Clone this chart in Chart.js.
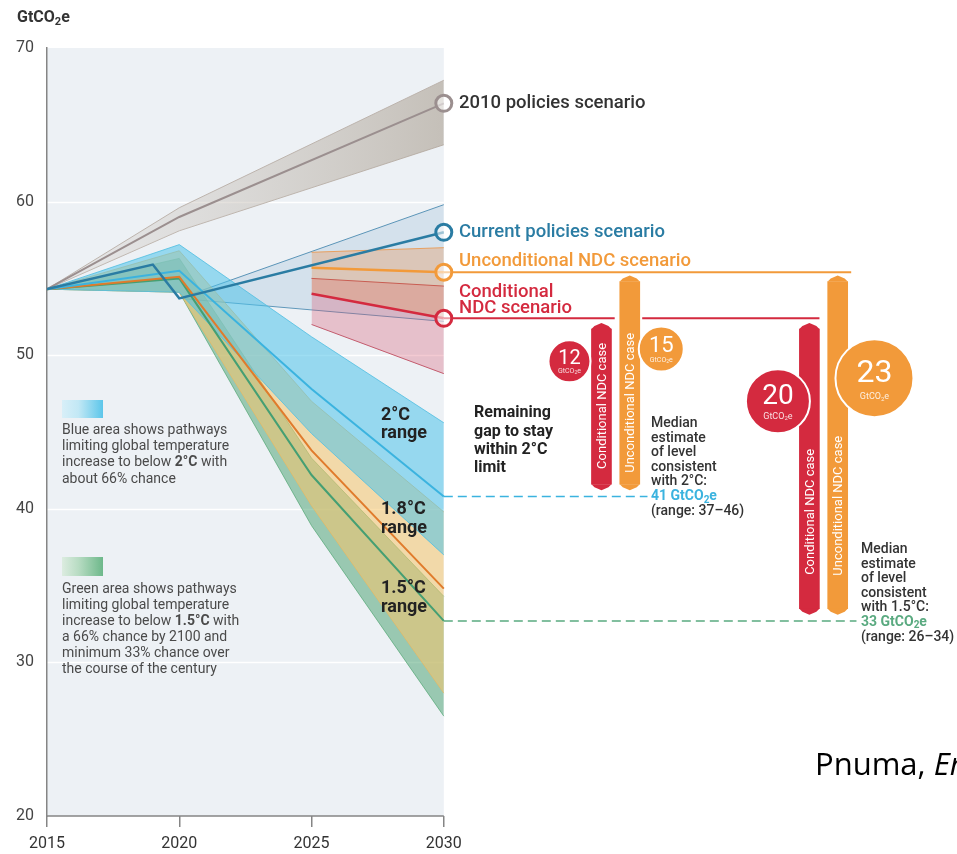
<!DOCTYPE html>
<html>
<head>
<meta charset="utf-8">
<script src="https://cdn.jsdelivr.net/npm/chart.js@4.4.1/dist/chart.umd.min.js"></script>
<style>
  html, body { margin: 0; padding: 0; background: #fff; }
  #wrap { width: 957px; height: 854px; position: relative; }
</style>
</head>
<body>
<div id="wrap"><canvas id="gap"></canvas></div>
<script>
// Datos (GtCO2e)
const xTickYears = [2015, 2020, 2025, 2030];

const policies2010Years = [2015, 2020, 2030];
const policies2010Mid   = [54.3, 59.0, 66.4];
const policies2010High  = [54.3, 59.6, 67.9];
const policies2010Low   = [54.3, 58.1, 63.7];

const currentYears     = [2015, 2019, 2020, 2030];
const currentMid       = [54.3, 55.9, 53.7, 58.0];
const currentBandYears = [2020, 2030];
const currentHigh      = [53.7, 59.8];
const currentLow       = [53.7, 52.2];

const ndcYears   = [2025, 2030];
const uncondMid  = [55.7, 55.4];
const uncondHigh = [56.7, 57.0];
const uncondLow  = [54.0, 52.4];
const condMid    = [54.0, 52.4];
const condHigh   = [55.0, 54.5];
const condLow    = [52.0, 48.8];

const pathYears = [2015, 2020, 2025, 2030];
const deg2High  = [54.3, 57.2, 51.2, 45.6];
const deg2Mid   = [54.3, 55.5, 47.8, 40.8];
const deg2Low   = [54.3, 54.1, 44.9, 37.0];
const deg18High = [54.3, 56.8, 47.0, 39.8];
const deg18Mid  = [54.3, 55.1, 43.8, 34.8];
const deg18Low  = [54.3, 54.1, 40.2, 28.0];
const deg15High = [54.3, 56.3, 43.3, 34.3];
const deg15Mid  = [54.3, 55.0, 42.2, 32.7];
const deg15Low  = [54.3, 54.1, 38.9, 26.5];

// Brechas (barras y círculos)
const gapValues    = [12, 15, 20, 23];
const condBarYears = [2035.96, 2043.82];
const condBarLow   = [41.6, 33.5];
const condBarHigh  = [51.7, 51.7];
const uncBarYears  = [2037.03, 2044.89];
const uncBarLow    = [41.6, 33.5];
const uncBarHigh   = [54.8, 54.8];

// posiciones de los círculos (año, valor) y radio en px
const bubbleX = [2034.75, 2038.22, 2042.63, 2046.28];
const bubbleY = [49.6, 50.4, 47.0, 48.5];
const bubbleR = [21, 22.5, 32, 39];

// extensiones a la derecha
const uncondLineEnd = 2045.4;
const condLineSegs  = [[2030, 2036.46], [2037.5, 2044.2]];
const deg2DashEnd   = 2037.7;
const deg15DashEnd  = 2045.6;

const RED = '#d42a3f', ORANGE = '#f29a3a', TEAL = '#2a7ca3', CYAN = '#3bb3df', GREEN = '#459f73', GREY = '#9b8f8f';

const pts = (xs, ys) => xs.map((x, i) => ({ x, y: ys[i] }));
const line = (xs, ys, color, width, order, extra = {}) => Object.assign({
  type: 'line', data: pts(xs, ys), borderColor: color, borderWidth: width,
  pointRadius: 0, fill: false, tension: 0, order
}, extra);

function grad2010(ctx) {
  const ch = ctx.chart;
  if (!ch.chartArea) return 'rgba(180,170,160,0.4)';
  const x = ch.scales.x;
  const g = ch.ctx.createLinearGradient(x.getPixelForValue(2016), 0, x.getPixelForValue(2030), 0);
  g.addColorStop(0, 'rgba(215,210,205,0.35)');
  g.addColorStop(1, 'rgba(175,165,152,0.65)');
  return g;
}

const datasets = [
  // 2010 policies
  line(policies2010Years, policies2010High, '#bdb4ad', 1, 100, { fill: '+1', backgroundColor: grad2010 }),
  line(policies2010Years, policies2010Low, '#bdb4ad', 1, 101),
  line(policies2010Years, policies2010Mid, GREY, 2, 33),
  // current policies
  line(currentBandYears, currentHigh, '#5b95b8', 1, 90, { fill: '+1', backgroundColor: 'rgba(140,180,210,0.25)' }),
  line(currentBandYears, currentLow, '#5b95b8', 1, 91),
  // 1.5 / 1.8 / 2 °C
  line(pathYears, deg15High, 'rgba(90,170,120,0.7)', 1, 80, { fill: '+1', backgroundColor: 'rgba(70,160,110,0.5)' }),
  line(pathYears, deg15Low, 'rgba(90,170,120,0.7)', 1, 81),
  line(pathYears, deg18High, 'rgba(235,180,90,0.7)', 1, 78, { fill: '+1', backgroundColor: 'rgba(245,197,106,0.55)' }),
  line(pathYears, deg18Low, 'rgba(235,180,90,0.7)', 1, 79),
  line(pathYears, deg2High, 'rgba(80,190,225,0.8)', 1, 76, { fill: '+1', backgroundColor: 'rgba(79,195,234,0.55)' }),
  line(pathYears, deg2Low, 'rgba(80,190,225,0.8)', 1, 77),
  // NDC
  line(ndcYears, condHigh, '#b8404f', 1, 72, { fill: '+1', backgroundColor: 'rgba(215,80,105,0.3)' }),
  line(ndcYears, condLow, '#c06070', 1, 73),
  line(ndcYears, uncondHigh, '#e8a060', 1, 70, { fill: '+1', backgroundColor: 'rgba(232,150,90,0.35)' }),
  line(ndcYears, uncondLow, 'rgba(0,0,0,0)', 0, 71),
  // medianas
  line(pathYears, deg15Mid, GREEN, 2, 42),
  line(pathYears, deg18Mid, '#e07b2c', 2, 41),
  line(pathYears, deg2Mid, CYAN, 2, 40),
  line(currentYears, currentMid, TEAL, 2.5, 30),
  line(ndcYears, uncondMid, ORANGE, 2.5, 31),
  line(ndcYears, condMid, RED, 2.5, 32),
  // extensiones
  line([2030, uncondLineEnd], [uncondMid[1], uncondMid[1]], ORANGE, 2, 20),
  { type: 'line', data: [
      { x: condLineSegs[0][0], y: condMid[1] }, { x: condLineSegs[0][1], y: condMid[1] },
      { x: (condLineSegs[0][1] + condLineSegs[1][0]) / 2, y: null },
      { x: condLineSegs[1][0], y: condMid[1] }, { x: condLineSegs[1][1], y: condMid[1] }],
    borderColor: RED, borderWidth: 2, pointRadius: 0, spanGaps: false, fill: false, order: 21 },
  line([2030, deg2DashEnd], [deg2Mid[3], deg2Mid[3]], CYAN, 1.5, 22, { borderDash: [9, 5] }),
  line([2030, deg15DashEnd], [deg15Mid[3], deg15Mid[3]], '#5aaa80', 1.5, 23, { borderDash: [9, 5] }),
  // barras
  { type: 'bar', label: 'cond', data: condBarYears.map((x, i) => ({ x, y: [condBarLow[i], condBarHigh[i]] })),
    backgroundColor: RED, barThickness: 20, grouped: false, borderWidth: 0, order: 11 },
  { type: 'bar', label: 'unc', data: uncBarYears.map((x, i) => ({ x, y: [uncBarLow[i], uncBarHigh[i]] })),
    backgroundColor: ORANGE, barThickness: 20, grouped: false, borderWidth: 0, order: 10 },
  // círculos
  { type: 'scatter', label: 'bubbles', data: pts(bubbleX, bubbleY), pointRadius: bubbleR,
    pointBackgroundColor: [RED, ORANGE, RED, ORANGE], pointBorderColor: '#fff', pointBorderWidth: 2, order: 5 },
  // marcadores 2030
  { type: 'scatter', data: [policies2010Mid[2], currentMid[3], uncondMid[1], condMid[1]].map(y => ({ x: 2030, y })),
    pointRadius: 8, pointBorderWidth: 3, pointBorderColor: [GREY, TEAL, ORANGE, RED],
    pointBackgroundColor: 'rgba(255,255,255,0.55)', order: 1 }
];

const barText = { cond: ['Conditional NDC case', [46.7, 39.8]], unc: ['Unconditional NDC case', [46.9, 40.2]] };

function co2(ctx, pre, x, y, size, weight, color, align = 'left') {
  const f = (s) => `${weight} ${s}px Roboto`;
  const sub = Math.round(size * 0.7);
  ctx.font = f(size); const wa = ctx.measureText(pre + 'GtCO').width; const we = ctx.measureText('e').width;
  ctx.font = f(sub); const w2 = ctx.measureText('2').width;
  let cx = align === 'center' ? x - (wa + w2 + we) / 2 : x;
  ctx.textAlign = 'left'; ctx.fillStyle = color;
  ctx.font = f(size); ctx.fillText(pre + 'GtCO', cx, y); cx += wa;
  ctx.font = f(sub); ctx.fillText('2', cx, y + size * 0.25); cx += w2;
  ctx.font = f(size); ctx.fillText('e', cx, y);
}

function runs(ctx, parts, x, y, size, color) {
  let cx = x;
  ctx.fillStyle = color; ctx.textAlign = 'left';
  parts.forEach(([t, b]) => {
    ctx.font = `${b ? 700 : 400} ${size}px Roboto`;
    ctx.fillText(t, cx, y);
    cx += ctx.measureText(t).width;
  });
}

const backdrop = {
  id: 'backdrop',
  beforeDraw(chart) {
    const { ctx, scales: { x, y } } = chart;
    const l = x.getPixelForValue(2015), r = x.getPixelForValue(2030);
    const t = y.getPixelForValue(70), b = y.getPixelForValue(20);
    ctx.save();
    ctx.fillStyle = '#edf1f5';
    ctx.fillRect(l, t, r - l, b - t);
    ctx.strokeStyle = '#ffffff'; ctx.lineWidth = 1.5;
    [30, 40, 50, 60].forEach(v => {
      const py = Math.round(y.getPixelForValue(v)) + 0.5;
      ctx.beginPath(); ctx.moveTo(l, py); ctx.lineTo(r, py); ctx.stroke();
    });
    ctx.strokeStyle = '#858585'; ctx.lineWidth = 1.5;
    ctx.beginPath(); ctx.moveTo(l, b); ctx.lineTo(r, b); ctx.stroke();
    ctx.restore();
  },
  afterDatasetDraw(chart, args) {
    const ds = chart.data.datasets[args.index];
    if (ds.type !== 'bar') return;
    const ctx = chart.ctx;
    ctx.save();
    args.meta.data.forEach((bar, i) => {
      const w = bar.width / 2, top = Math.min(bar.y, bar.base), bot = Math.max(bar.y, bar.base);
      ctx.fillStyle = ds.backgroundColor;
      ctx.beginPath();
      ctx.moveTo(bar.x - w, top); ctx.lineTo(bar.x - w + 3, top - 3); ctx.lineTo(bar.x, top - 6);
      ctx.lineTo(bar.x + w - 3, top - 3); ctx.lineTo(bar.x + w, top); ctx.closePath(); ctx.fill();
      ctx.beginPath();
      ctx.moveTo(bar.x - w, bot); ctx.lineTo(bar.x - w + 3, bot + 3); ctx.lineTo(bar.x, bot + 6);
      ctx.lineTo(bar.x + w - 3, bot + 3); ctx.lineTo(bar.x + w, bot); ctx.closePath(); ctx.fill();
      const [txt, ys] = barText[ds.label];
      ctx.save();
      ctx.translate(bar.x, chart.scales.y.getPixelForValue(ys[i]));
      ctx.rotate(-Math.PI / 2);
      ctx.font = '400 13px Roboto'; ctx.fillStyle = '#fff';
      ctx.textAlign = 'center'; ctx.textBaseline = 'middle';
      ctx.fillText(txt, 0, 1);
      ctx.restore();
    });
    ctx.restore();
  }
};

const labels = {
  id: 'labels',
  afterDraw(chart) {
    const { ctx, scales: { x, y } } = chart;
    ctx.save();
    ctx.textBaseline = 'middle';

    co2(ctx, '', 17, 18, 16, 700, '#333');

    // escenarios
    ctx.textAlign = 'left';
    ctx.font = '500 18.5px Roboto';
    ctx.fillStyle = '#333'; ctx.fillText('2010 policies scenario', 459, 103);
    ctx.fillStyle = TEAL; ctx.fillText('Current policies scenario', 459, 232);
    ctx.fillStyle = ORANGE; ctx.fillText('Unconditional NDC scenario', 459, 261);
    ctx.fillStyle = RED; ctx.fillText('Conditional', 459, 292); ctx.fillText('NDC scenario', 459, 308);

    // rangos
    ctx.font = '700 18px Roboto'; ctx.fillStyle = '#222';
    [['2°C', 415], ['range', 433], ['1.8°C', 509], ['range', 528], ['1.5°C', 588], ['range', 607]]
      .forEach(([t, py]) => ctx.fillText(t, 381, py));

    ctx.font = '700 16px Roboto';
    [['Remaining', 413], ['gap to stay', 431.5], ['within 2°C', 450], ['limit', 468]]
      .forEach(([t, py]) => ctx.fillText(t, 474, py));

    ctx.font = '500 14px Roboto'; ctx.fillStyle = '#333';
    [['Median', 423], ['estimate', 438], ['of level', 452.5], ['consistent', 467], ['with 2°C:', 481.5]]
      .forEach(([t, py]) => ctx.fillText(t, 651, py));
    co2(ctx, deg2Mid[3].toFixed(0) + ' ', 651, 496.5, 14, 700, CYAN);
    ctx.font = '500 14px Roboto'; ctx.fillStyle = '#333';
    ctx.fillText('(range: 37\u201346)', 651, 511.5);

    [['Median', 549], ['estimate', 564], ['of level', 578], ['consistent', 593], ['with 1.5°C:', 607]]
      .forEach(([t, py]) => ctx.fillText(t, 861, py));
    co2(ctx, deg15Mid[3].toFixed(0) + ' ', 861, 622, 14, 700, '#5aaa80');
    ctx.font = '500 14px Roboto'; ctx.fillStyle = '#333';
    ctx.fillText('(range: 26\u201334)', 861, 637);

    // leyendas
    let g = ctx.createLinearGradient(62, 0, 103, 0);
    g.addColorStop(0, '#d8eff8'); g.addColorStop(0.4, '#c2e8f5'); g.addColorStop(1, '#5cc6ea');
    ctx.fillStyle = g; ctx.fillRect(62, 400, 41, 18);
    g = ctx.createLinearGradient(62, 0, 103, 0);
    g.addColorStop(0, '#dcece0'); g.addColorStop(0.4, '#b8dcc3'); g.addColorStop(1, '#6db88a');
    ctx.fillStyle = g; ctx.fillRect(62, 557, 41, 19);

    const tc = '#4a4a4a', ts = 14;
    runs(ctx, [['Blue area shows pathways']], 62, 430, ts, tc);
    runs(ctx, [['limiting global temperature']], 62, 446.5, ts, tc);
    runs(ctx, [['increase to below '], ['2°C', true], [' with']], 62, 462.5, ts, tc);
    runs(ctx, [['about 66% chance']], 62, 479, ts, tc);
    runs(ctx, [['Green area shows pathways']], 62, 589, ts, tc);
    runs(ctx, [['limiting global temperature']], 62, 605, ts, tc);
    runs(ctx, [['increase to below '], ['1.5°C', true], [' with']], 62, 621, ts, tc);
    runs(ctx, [['a 66% chance by 2100 and']], 62, 637.5, ts, tc);
    runs(ctx, [['minimum 33% chance over']], 62, 653.5, ts, tc);
    runs(ctx, [['the course of the century']], 62, 669.5, ts, tc);

    // círculos
    const numSize = [20, 22, 28, 32], unitSize = [7, 7, 9, 9];
    gapValues.forEach((v, i) => {
      const cx = x.getPixelForValue(bubbleX[i]), cy = y.getPixelForValue(bubbleY[i]);
      ctx.textAlign = 'center'; ctx.fillStyle = '#fff';
      ctx.font = `400 ${numSize[i]}px Roboto`;
      ctx.fillText(String(v), cx, cy - bubbleR[i] * 0.12);
      co2(ctx, '', cx, cy + bubbleR[i] * 0.48, unitSize[i], 400, 'rgba(255,255,255,0.85)', 'center');
    });

    // fuente
    ctx.textAlign = 'left'; ctx.textBaseline = 'alphabetic'; ctx.fillStyle = '#000';
    ctx.font = '400 31px "Open Sans"';
    ctx.fillText('Pnuma, ', 815, 775);
    const w = ctx.measureText('Pnuma, ').width;
    ctx.font = 'italic 400 31px "Open Sans"';
    ctx.fillText('Emissions Gap Report', 815 + w, 775);
    ctx.restore();
  }
};

Chart.defaults.font.family = 'Roboto';

new Chart(document.getElementById('gap'), {
  type: 'line',
  data: { datasets },
  options: {
    responsive: true,
    maintainAspectRatio: false,
    animation: false,
    devicePixelRatio: 1,
    layout: { autoPadding: false, padding: { top: 48, right: 0, bottom: 0, left: 0 } },
    plugins: { legend: { display: false }, tooltip: { enabled: false } },
    scales: {
      x: {
        type: 'linear', min: 2015, max: 2049.4, offset: false,
        afterBuildTicks: (s) => { s.ticks = xTickYears.map(v => ({ value: v })); },
        afterFit: (s) => { s.height = 38; },
        border: { display: false },
        grid: { offset: false, drawOnChartArea: false, drawTicks: true, tickLength: 11, color: '#858585', lineWidth: 1.5 },
        ticks: { padding: 7, color: '#333', font: { size: 16 }, maxRotation: 0, callback: (v) => String(v) }
      },
      y: {
        min: 20, max: 70,
        afterFit: (s) => { s.width = 47; },
        border: { display: true, color: '#858585', width: 1.5 },
        grid: { display: false, drawTicks: false },
        ticks: { stepSize: 10, padding: 13, color: '#444', font: { size: 16 } }
      }
    }
  },
  plugins: [backdrop, labels]
});
</script>
</body>
</html>
